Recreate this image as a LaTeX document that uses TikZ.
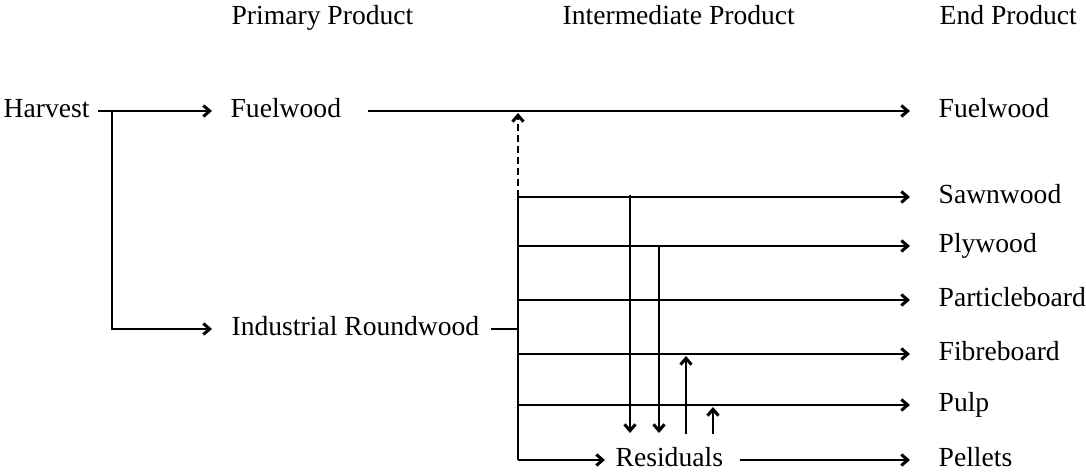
\documentclass[tikz,border=0pt]{standalone}
\usepackage{fontspec}
\setmainfont{Liberation Serif}
\usetikzlibrary{arrows.meta,positioning}

\begin{document}
\begin{tikzpicture}[x=0.5pt,y=-0.5pt,line width=0.65pt,font=\fontsize{13.8}{16}\selectfont,
    every node/.style={inner sep=0pt,anchor=west,text height=0.8em,text depth=0.1em},
    flow/.style={-{Straight Barb[length=3.2pt,width=5.5pt,line width=1.5pt]}}]
  \useasboundingbox (0,0) rectangle (1086,474);
  % column heads
  \node (hPrim) at (231,18) {Primary Product};
  \node (hInter) at (562,18) {Intermediate Product};
  \node (hEnd) at (939,18) {End Product};
  % primary products
  \node (harvest) at (3,111) {Harvest};
  \node (pFuel) at (230,111) {Fuelwood};
  \node (pInd) at (231,329) {Industrial Roundwood};
  % end products
  \node (eFuel) at (938,111) {Fuelwood};
  \node (eSawn) at (938,197) {Sawnwood};
  \node (ePly) at (938,246) {Plywood};
  \node (ePart) at (938,300) {Particleboard};
  \node (eFibre) at (938,354) {Fibreboard};
  \node (ePulp) at (938,405) {Pulp};
  \node (ePellets) at (938,460) {Pellets};
  \node (resid) at (615,460) {Residuals};
  % junctions
  \coordinate (split) at (112,111);
  \coordinate (bus) at (518,329);
  \coordinate (cutSawn) at (630,433);
  \coordinate (cutPly) at (659,433);
  \coordinate (feedFibre) at (686,434);
  \coordinate (feedPulp) at (713,434);

  \draw[flow,shorten <=4pt,shorten >=9pt] (harvest.east) -- (pFuel.west);
  \draw[flow,shorten >=9.5pt] (split) |- (pInd.west);
  \draw[flow,shorten <=13pt,shorten >=14pt] (pFuel.east) -- (eFuel.west);
  \draw[shorten <=5.5pt] (pInd.east) -- (bus);
  \draw (bus |- eSawn.west) -- (bus |- resid.west);
  \draw[flow,dash pattern=on 3.5pt off 2pt,shorten >=1pt] (bus |- eSawn.west) -- (bus |- pFuel.east);
  \foreach \e in {eSawn,ePly,ePart,eFibre,ePulp}
    \draw[flow,shorten >=14pt] (bus |- \e.west) -- (\e.west);
  \draw[flow,shorten >=5pt] (bus |- resid.west) -- (resid.west);
  \draw[flow,shorten <=8pt,shorten >=14pt] (resid.east) -- (ePellets.west);
  % residual streams
  \draw[flow] ([yshift=1pt]cutSawn |- eSawn.west) -- (cutSawn);
  \draw[flow] (cutPly |- ePly.west) -- (cutPly);
  \draw[flow,shorten >=1pt] (feedFibre) -- (feedFibre |- eFibre.west);
  \draw[flow,shorten >=1pt] (feedPulp) -- (feedPulp |- ePulp.west);
\end{tikzpicture}
\end{document}
